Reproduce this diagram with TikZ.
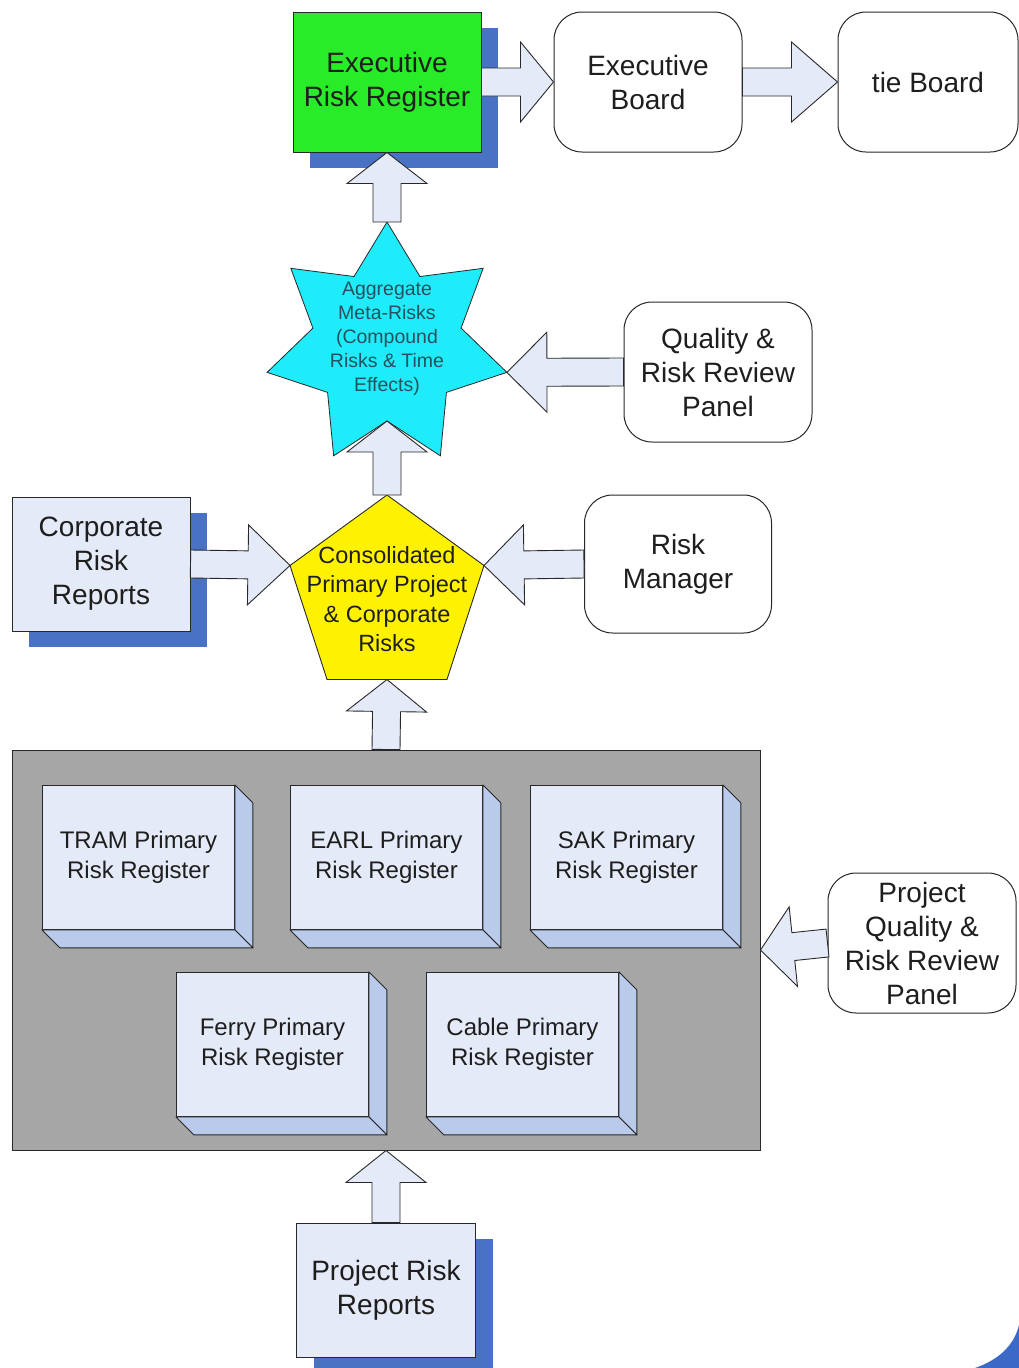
\documentclass[tikz,border=0pt]{standalone}
\usepackage{fontspec}
\setmainfont{Liberation Sans}
\usetikzlibrary{calc,shadows}
\definecolor{shadowblue}{RGB}{74,114,196}
\definecolor{lightfill}{RGB}{228,234,247}
\definecolor{sidefill}{RGB}{186,202,234}
\definecolor{errgreen}{RGB}{40,236,40}
\definecolor{starcyan}{RGB}{30,236,250}
\definecolor{pentyellow}{RGB}{255,242,0}
\definecolor{contgray}{RGB}{166,166,166}
\definecolor{txt}{RGB}{30,30,30}
\definecolor{startxt}{RGB}{40,80,95}
\definecolor{edge}{RGB}{40,40,40}
\definecolor{cornerblue}{RGB}{60,105,200}

\newcommand\blockarrow[3][35]{%
  \path ($(#3)!#1pt!(#2)$) coordinate (hb);
  \draw[blockar] ($(#2)!14pt!90:(#3)$) -- ($(hb)!14pt!90:(#3)$) -- ($(hb)!40pt!90:(#3)$)
    -- (#3) -- ($(hb)!40pt!-90:(#3)$) -- ($(hb)!14pt!-90:(#3)$) -- ($(#2)!14pt!-90:(#3)$) -- cycle;
}
\newcommand\cubebox[4]{%
  \node[cubefront, anchor=north west] (#1) at (#2,#3) {#4};
  \draw[cubeside] (#1.north east) -- ++(18,18) -- ($(#1.south east)+(18,18)$) -- (#1.south east) -- cycle;
  \draw[cubeside] (#1.south west) -- (#1.south east) -- ++(18,18) -- ($(#1.south west)+(18,18)$) -- cycle;
}

\tikzset{
  blockar/.style={fill=lightfill, draw=edge, line width=0.9pt, line join=miter},
  box/.style={draw=edge, line width=1pt, fill=lightfill, text=txt, align=center, inner sep=0pt,
    font=\fontsize{28}{34}\selectfont},
  shbox/.style={box, general shadow={fill=shadowblue, shadow xshift=17pt, shadow yshift=-16pt}},
  rbox/.style={box, fill=white, rounded corners=28pt},
  cubefront/.style={draw=edge, line width=0.9pt, fill=lightfill, text=txt, align=center, inner sep=0pt,
    minimum width=192pt, minimum height=144pt, font=\fontsize{24}{30}\selectfont},
  cubeside/.style={draw=edge, line width=0.9pt, fill=sidefill, line join=round},
}

\begin{document}
\begin{tikzpicture}[x=1pt,y=-1pt]
\useasboundingbox (0,0) rectangle (1019,1368);

% corner decoration
\fill[cornerblue] (975,1368) .. controls (998,1360) and (1014,1346) .. (1019,1325) -- (1019,1368) -- cycle;

% top row
\node[shbox, fill=errgreen, minimum width=188pt, minimum height=140pt] (err) at (387,82) {Executive\\Risk Register};
\node[rbox, minimum width=188pt, minimum height=140pt] (eb) at (648,82) {Executive\\Board};
\node[rbox, minimum width=180pt, minimum height=140pt] (tb) at (928,82) {tie Board};

% star
\draw[fill=starcyan, draw=edge, line width=0.8pt, line join=miter]
  ($(387,345)+(-90:123)$)
  \foreach \i in {1,...,13} { -- ($(387,345)+({-90+\i*180/7}:{mod(\i,2)==0 ? 123 : 76})$) } -- cycle;
\coordinate (startop) at ($(387,345)+(-90:123)$);
\coordinate (starright) at ($(387,345)+({-90+4*180/7}:123)$);
\coordinate (starbottom) at ($(387,345)+(90:76)$);
\node[align=center, text=startxt, font=\fontsize{19.5}{24}\selectfont] (star) at (387,339)
  {Aggregate\\Meta-Risks\\(Compound\\Risks \& Time\\Effects)};

% pentagon
\coordinate (ptop) at ($(387,597)+(-90:102)$);
\coordinate (pright) at ($(387,597)+(-18:102)$);
\coordinate (pbr) at ($(387,597)+(54:102)$);
\coordinate (pbl) at ($(387,597)+(126:102)$);
\coordinate (pleft) at ($(387,597)+(198:102)$);
\coordinate (pbottom) at ($(pbr)!0.5!(pbl)$);
\draw[fill=pentyellow, draw=edge, line width=0.9pt, line join=miter] (ptop) -- (pright) -- (pbr) -- (pbl) -- (pleft) -- cycle;
\node[align=center, text=txt, font=\fontsize{23.5}{29.3}\selectfont] (pent) at (387,599)
  {Consolidated\\Primary Project\\\& Corporate\\Risks};

% side boxes
\node[rbox, minimum width=188pt, minimum height=140pt] (qrrp) at (718,372) {Quality \&\\Risk Review\\Panel};
\node[shbox, minimum width=178pt, minimum height=134pt] (crr) at (101,564) {Corporate\\Risk\\Reports};
\node[rbox, minimum width=187pt, minimum height=138pt] (rm) at (678,564) {Risk\\Manager};

% container
\node[draw=edge, line width=1pt, fill=contgray, minimum width=748pt, minimum height=400pt, inner sep=0pt] (cont) at (386,950) {};
\cubebox{tram}{42}{785}{TRAM Primary\\Risk Register}
\cubebox{earl}{290}{785}{EARL Primary\\Risk Register}
\cubebox{sak}{530}{785}{SAK Primary\\Risk Register}
\cubebox{ferry}{176}{972}{Ferry Primary\\Risk Register}
\cubebox{cable}{426}{972}{Cable Primary\\Risk Register}

\node[rbox, minimum width=188pt, minimum height=140pt] (pqrrp) at (922,943) {Project\\Quality \&\\Risk Review\\Panel};
\node[shbox, minimum width=179pt, minimum height=134pt] (prr) at (386,1290) {Project Risk\\Reports};

% block arrows
\blockarrow[33]{err.east}{eb.west}
\blockarrow[46]{eb.east}{tb.west}
\blockarrow[31]{startop}{err.south}
\blockarrow[40]{qrrp.west}{starright}
\blockarrow[31]{ptop}{starbottom}
\blockarrow[42]{crr.east}{pleft}
\blockarrow[40]{rm.west}{pright}
\blockarrow[32]{cont.north}{pbottom}
\blockarrow[33]{pqrrp.west}{cont.east}
\blockarrow[32]{prr.north}{cont.south}
\end{tikzpicture}
\end{document}
